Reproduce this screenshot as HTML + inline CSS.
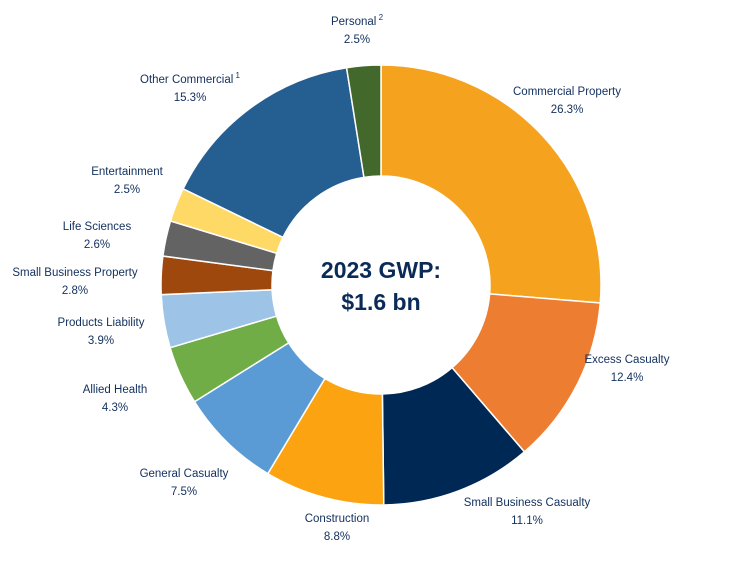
<!DOCTYPE html>
<html><head><meta charset="utf-8"><style>
body{margin:0;background:#fff;}
svg{display:block;font-family:"Liberation Sans",sans-serif;}
</style></head><body>
<svg id="chart" width="740" height="583"></svg>
<script>
const categories=["Commercial Property","Excess Casualty","Small Business Casualty","Construction","General Casualty","Allied Health","Products Liability","Small Business Property","Life Sciences","Entertainment","Other Commercial","Personal"];
const values=[26.3,12.4,11.1,8.8,7.5,4.3,3.9,2.8,2.6,2.5,15.3,2.5];
const valueLabels=["26.3%","12.4%","11.1%","8.8%","7.5%","4.3%","3.9%","2.8%","2.6%","2.5%","15.3%","2.5%"];
const superscripts=["","","","","","","","","","","1","2"];
const colors=["#F5A31E","#ED7D31","#002855","#FCA311","#5B9BD5","#70AD47","#9DC3E6","#9E480E","#636363","#FFD966","#255E91","#43682B"];
const labelPos=[[567,95],[627,363],[527,506],[337,522],[184,477],[115,393],[101,326],[75,276],[97,230],[127,175],[190,83],[357,25]];
const NS="http://www.w3.org/2000/svg";
const svg=document.getElementById('chart');
const cx=381,cy=285,R=220,r=109;
const total=values.reduce((a,b)=>a+b,0);
function pt(a,rad){return [cx+rad*Math.sin(a),cy-rad*Math.cos(a)];}
let acc=0;
values.forEach((v,i)=>{
  const a0=acc/total*2*Math.PI; acc+=v; const a1=acc/total*2*Math.PI;
  const large=(a1-a0)>Math.PI?1:0;
  const p0=pt(a0,R),p1=pt(a1,R),q1=pt(a1,r),q0=pt(a0,r);
  const p=document.createElementNS(NS,'path');
  p.setAttribute('d',`M${p0[0]},${p0[1]} A${R},${R} 0 ${large} 1 ${p1[0]},${p1[1]} L${q1[0]},${q1[1]} A${r},${r} 0 ${large} 0 ${q0[0]},${q0[1]} Z`);
  p.setAttribute('fill',colors[i]);p.setAttribute('stroke','#fff');p.setAttribute('stroke-width','1.5');
  
  
  svg.appendChild(p);
  const t=document.createElementNS(NS,'text');
  t.setAttribute('x',labelPos[i][0]);t.setAttribute('y',labelPos[i][1]);
  t.setAttribute('text-anchor','middle');t.setAttribute('font-size','11.5');t.setAttribute('fill','#12305E');
  
  
  const s1=document.createElementNS(NS,'tspan');s1.textContent=categories[i];t.appendChild(s1);
  if(superscripts[i]){const s=document.createElementNS(NS,'tspan');s.setAttribute('font-size','8');s.setAttribute('dy','-5');s.textContent=' '+superscripts[i];t.appendChild(s);}
  const s2=document.createElementNS(NS,'tspan');s2.setAttribute('x',labelPos[i][0]);s2.setAttribute('dy',superscripts[i]?'23':'18');s2.textContent=valueLabels[i];t.appendChild(s2);
  svg.appendChild(t);
});
const c1=document.createElementNS(NS,'text');
c1.setAttribute('x',cx);c1.setAttribute('y',278);c1.setAttribute('text-anchor','middle');c1.setAttribute('font-size','23');c1.setAttribute('font-weight','bold');c1.setAttribute('fill','#0A2A57');c1.textContent='2023 GWP:';


svg.appendChild(c1);
const c2=document.createElementNS(NS,'text');
c2.setAttribute('x',cx);c2.setAttribute('y',310);c2.setAttribute('text-anchor','middle');c2.setAttribute('font-size','23');c2.setAttribute('font-weight','bold');c2.setAttribute('fill','#0A2A57');c2.textContent='$1.6 bn';


svg.appendChild(c2);
</script>
</body></html>
